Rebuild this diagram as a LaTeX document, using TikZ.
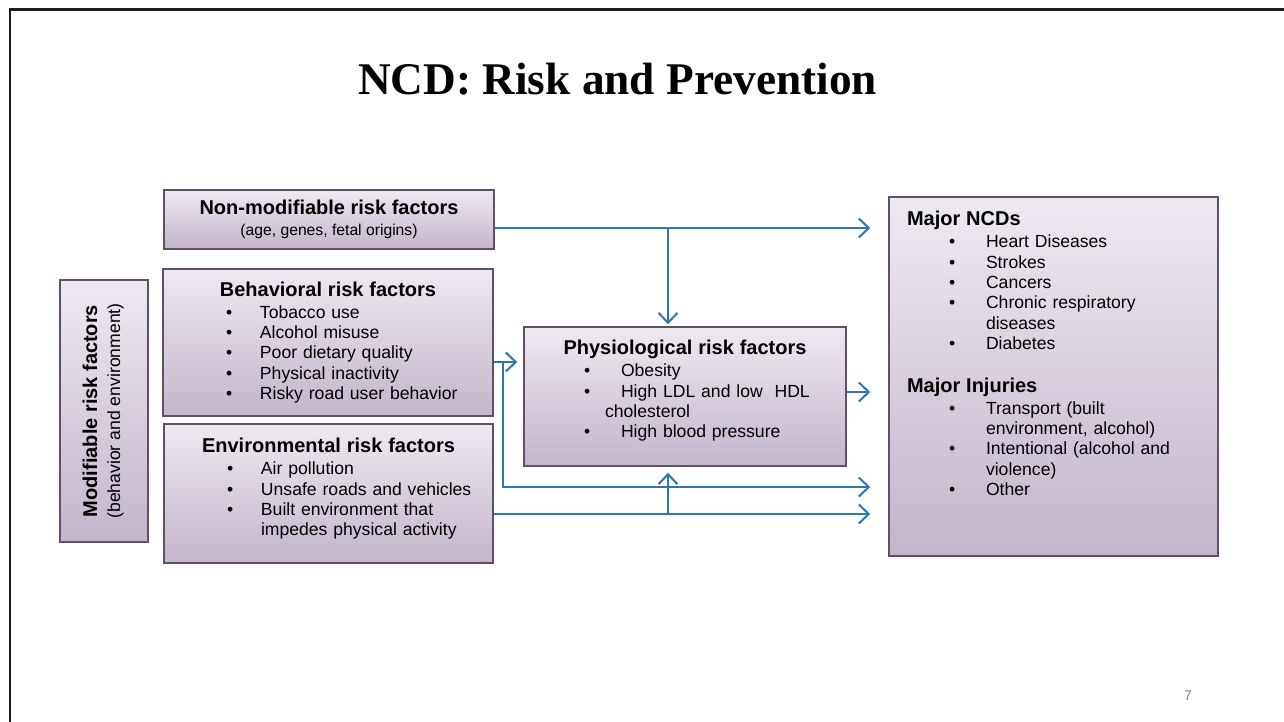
\documentclass[tikz,border=0pt]{standalone}
\usepackage{fontspec}
\setmainfont{Liberation Sans}
\newfontfamily\slidettl{Liberation Serif}
\usetikzlibrary{arrows.meta,calc}
\definecolor{frameink}{HTML}{1C1C1C}
\definecolor{lilac}{HTML}{EEE9F1}
\definecolor{mauve}{HTML}{C3B5CA}
\definecolor{plum}{HTML}{5E5066}
\definecolor{flow}{HTML}{2E75B6}
\definecolor{pgno}{HTML}{7F7F7F}
\newcommand{\fsi}{\fontsize{17.6}{20.3}\selectfont}
\newcommand{\hd}[1]{{\fontsize{20}{21}\selectfont\bfseries #1}}
\newcommand{\hdc}[1]{\makebox[\linewidth]{\hd{#1}}}
\newcommand{\itm}[2][60pt]{\hspace*{#1}\makebox[\dimexpr 97pt-#1\relax][l]{\textbullet}#2}
\newcommand{\cnt}[2][97pt]{\hspace*{#1}#2}
\tikzset{
  box/.style   ={draw=plum, line width=1.5pt, top color=lilac, bottom color=mauve, inner sep=0pt, font=\fsi},
  boxl/.style  ={box, align=left},
  ln/.style    ={draw=flow, line width=2pt, -{Straight Barb[length=10pt,width=19pt]}},
  edge/.style  ={draw=frameink, line width=2.5pt},
  pgtag/.style ={font=\fontsize{14}{16}\selectfont, color=pgno},
}

\begin{document}
\begin{tikzpicture}[x=1pt,y=-1pt]
    \useasboundingbox (0,0) rectangle (1284,722);
    \draw[edge] (10,722) -- (10,9.5) -- (1284,9.5);

    \node (title) at (617.5,79) {\slidettl\fontsize{45.3}{50}\selectfont\bfseries NCD: Risk and Prevention};

    \node[box,align=center,minimum width=330pt,minimum height=59pt] (nonmod) at (329,219.5)
      {\hd{Non-modifiable risk factors}\\ {\fontsize{15.7}{18}\selectfont(age, genes, fetal origins)}};
    \node[boxl,text width=330pt,minimum height=147pt] (behav) at (328,342.5)
      {\hdc{Behavioral risk factors}\\[1.7pt] \itm[63pt]{Tobacco use}\\ \itm[63pt]{Alcohol misuse}\\
       \itm[63pt]{Poor dietary quality}\\ \itm[63pt]{Physical inactivity}\\ \itm[63pt]{Risky road user behavior}};
    \node[boxl,text width=329pt,minimum height=139pt] (envir) at (328.5,493.5)
      {\hdc{Environmental risk factors}\\[1.7pt] \itm[63pt]{Air pollution}\\ \itm[63pt]{Unsafe roads and vehicles}\\
       \itm[63pt]{Built environment that}\\ \cnt{impedes physical activity}\rule[-13pt]{0pt}{13pt}};
    \node[box,minimum width=88pt,minimum height=262pt] (modif) at (104,411)
      {\rotatebox{90}{\fontsize{17.6}{23}\selectfont\begin{tabular}{@{}c@{}}\hd{Modifiable risk factors}\\ (behavior and environment)\end{tabular}}};
    \node[boxl,text width=322pt,minimum height=139pt] (physio) at (685,396.5)
      {\hdc{Physiological risk factors}\\[1.7pt] \itm{Obesity}\\ \itm{High LDL and low\ \ HDL}\\
       \cnt[81pt]{cholesterol}\\ \itm{High blood pressure}\rule[-15pt]{0pt}{15pt}};
    \node[boxl,text width=329pt,minimum height=359pt] (ncd) at (1053.5,376.5)
      {\cnt[18pt]{\hd{Major NCDs}}\\[1.7pt] \itm{Heart Diseases}\\ \itm{Strokes}\\ \itm{Cancers}\\
       \itm{Chronic respiratory}\\ \cnt{diseases}\\ \itm{Diabetes}\\[22.7pt]
       \cnt[18pt]{\hd{Major Injuries}}\\[1.7pt] \itm{Transport (built}\\ \cnt{environment, alcohol)}\\
       \itm{Intentional (alcohol and}\\ \cnt{violence)}\\ \itm{Other}\rule[-46pt]{0pt}{46pt}};

    \node[pgtag] (pageno) at (1188,696) {7};

    \coordinate (jtop) at (668,228);
    \coordinate (jbeh) at (503,362);
    \coordinate (jlow) at (503,487);
    \coordinate (jenv) at (668,514);

    \draw[ln,shorten >=18pt] ($(nonmod.east)+(0,8.5)$) coordinate (n1) -- (n1 -| ncd.west);
    \draw[ln,shorten >=2pt] (jtop) -- (jtop |- physio.north);
    \draw[ln,shorten >=6pt] ($(behav.east)+(0,19.5)$) coordinate (b1) -- (b1 -| physio.west);
    \draw[ln,shorten >=18pt] (jbeh) -- (jlow) -- (jlow -| ncd.west);
    \draw[ln,shorten >=18pt] ($(physio.east)+(0,-4.5)$) coordinate (p1) -- (p1 -| ncd.west);
    \draw[ln,shorten >=18pt] ($(envir.east)+(0,20.5)$) coordinate (e1) -- (e1 -| ncd.west);
    \draw[ln,shorten >=6pt] (jenv) -- (jenv |- physio.south);
  \end{tikzpicture}
\end{document}
